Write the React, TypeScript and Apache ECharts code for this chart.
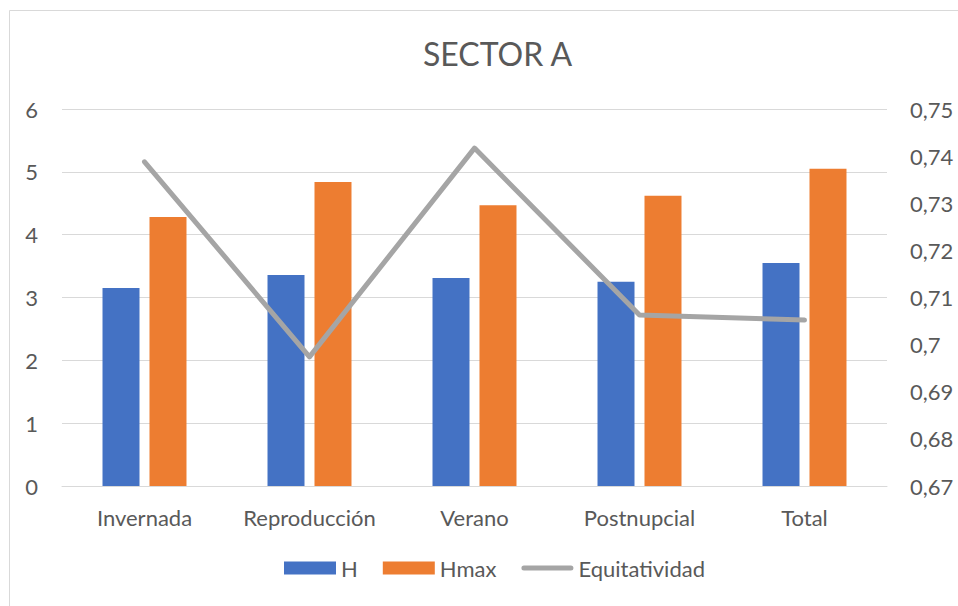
import React, { useEffect, useRef } from "react";
import * as echarts from "echarts";

const categories = ["Invernada", "Reproducción", "Verano", "Postnupcial", "Total"];
const hValues = [3.15, 3.36, 3.31, 3.25, 3.55];
const hmaxValues = [4.28, 4.84, 4.47, 4.62, 5.05];
const equitatividad = [0.7388, 0.6974, 0.7417, 0.7063, 0.7052];

const FONT = "Lato";
const TEXT = "#595959";
const GRID = "#D9D9D9";

export default function App() {
  const ref = useRef<HTMLDivElement>(null);
  useEffect(() => {
    if (!ref.current) return;
    const chart = echarts.init(ref.current, undefined, { renderer: "svg" });
    chart.setOption({
      animation: false,
      backgroundColor: "#FFFFFF",
      textStyle: { fontFamily: FONT },
      title: {
        text: "SECTOR A",
        left: 418,
        top: 32,
        textStyle: { fontFamily: FONT, fontSize: 32, fontWeight: "normal", color: TEXT },
      },
      graphic: [
        {
          type: "rect",
          shape: { x: 9.5, y: 10.5, width: 1000, height: 1000 },
          style: { fill: "none", stroke: GRID, lineWidth: 1 },
          silent: true,
          z: -1,
        },
      ],
      legend: {
        bottom: 22,
        left: 279,
        itemWidth: 52,
        itemHeight: 13,
        itemGap: 25,
        textStyle: { fontFamily: FONT, fontSize: 22, color: TEXT },
        data: [
          { name: "H", icon: "rect" },
          { name: "Hmax", icon: "rect" },
          { name: "Equitatividad", icon: "path://M2.5,0H49.5A2.5,2.5,0,0,1,49.5,5H2.5A2.5,2.5,0,0,1,2.5,0Z" },
        ],
      },
      grid: { left: 62, right: 71, top: 109, bottom: 120, containLabel: false },
      xAxis: {
        type: "category",
        data: categories,
        axisLine: { lineStyle: { color: GRID, width: 1 } },
        axisTick: { show: false },
        axisLabel: { fontFamily: FONT, fontSize: 22, color: TEXT, margin: 20, interval: 0 },
      },
      yAxis: [
        {
          type: "value",
          min: 0,
          max: 6,
          interval: 1,
          axisLine: { show: false },
          axisTick: { show: false },
          splitLine: { lineStyle: { color: GRID, width: 1 } },
          axisLabel: { fontFamily: FONT, fontSize: 22, color: TEXT, margin: 24 },
        },
        {
          type: "value",
          min: 0.67,
          max: 0.75,
          interval: 0.01,
          axisLine: { show: false },
          axisTick: { show: false },
          splitLine: { show: false },
          axisLabel: {
            fontFamily: FONT,
            fontSize: 22,
            color: TEXT,
            margin: 23,
            formatter: (v: number) => String(Number(v.toFixed(2))).replace(".", ","),
          },
        },
      ],
      series: [
        {
          name: "H",
          type: "bar",
          data: hValues,
          barWidth: 37,
          barGap: "27%",
          itemStyle: { color: "#4472C4" },
        },
        {
          name: "Hmax",
          type: "bar",
          data: hmaxValues,
          barWidth: 37,
          barGap: "27%",
          itemStyle: { color: "#ED7D31" },
        },
        {
          name: "Equitatividad",
          type: "line",
          yAxisIndex: 1,
          data: equitatividad,
          symbol: "none",
          lineStyle: { color: "#A5A5A5", width: 5, cap: "round", join: "round" },
          itemStyle: { color: "#A5A5A5" },
          z: 5,
        },
      ],
    });
    return () => chart.dispose();
  }, []);
  return (
    <div
      ref={ref}
      style={{ position: "fixed", left: 0, top: 0, width: 958, height: 606 }}
    />
  );
}
